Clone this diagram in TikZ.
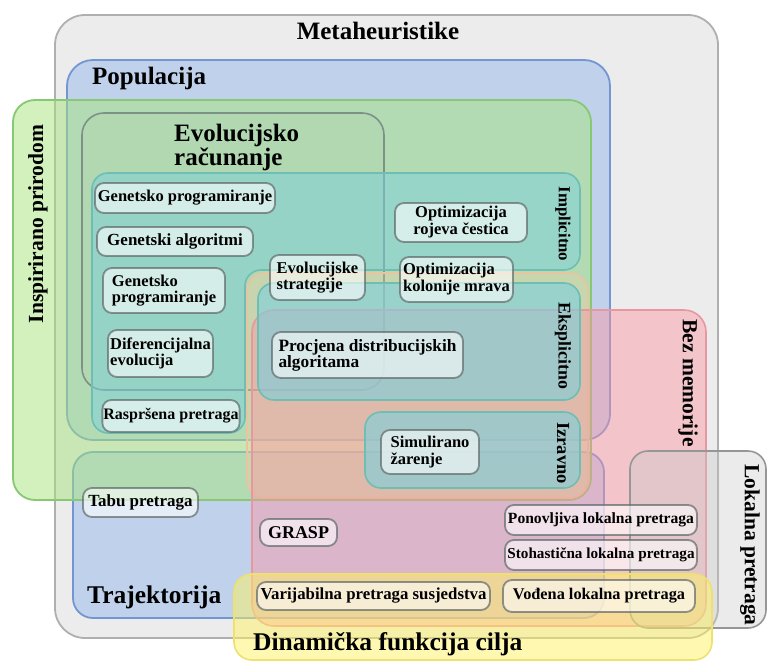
\documentclass[tikz,border=0pt]{standalone}
\usepackage{fontspec}
\setmainfont{Liberation Serif}
\definecolor{metaF}{RGB}{236,236,236}
\definecolor{metaD}{RGB}{175,175,175}
\definecolor{blueF}{RGB}{150,185,235}
\definecolor{blueD}{RGB}{115,150,210}
\definecolor{greenF}{RGB}{167,228,125}
\definecolor{greenD}{RGB}{135,200,115}
\definecolor{evoD}{RGB}{125,145,135}
\definecolor{tealF}{RGB}{125,208,222}
\definecolor{tealD}{RGB}{110,190,180}
\definecolor{orangeF}{RGB}{250,205,165}
\definecolor{orangeD}{RGB}{232,196,160}
\definecolor{redF}{RGB}{252,150,165}
\definecolor{redD}{RGB}{232,150,160}
\definecolor{locF}{RGB}{200,200,200}
\definecolor{locD}{RGB}{150,150,150}
\definecolor{yelF}{RGB}{255,242,100}
\definecolor{yelD}{RGB}{238,225,110}
\definecolor{itemD}{RGB}{95,105,105}
\begin{document}
\begin{tikzpicture}[x=1pt,y=-1pt,
  metabox/.style={fill=metaF, draw=metaD, line width=1.8pt, rounded corners=30pt},
  popbox/.style={fill=blueF, fill opacity=0.5, draw=blueD, line width=1.8pt, rounded corners=26pt},
  greenbox/.style={fill=greenF, fill opacity=0.5, draw=greenD, line width=1.8pt, rounded corners=22pt},
  evobox/.style={fill=gray, fill opacity=0.03, draw=evoD, line width=1.6pt, rounded corners=22pt},
  tealbox/.style={fill=tealF, fill opacity=0.5, draw=tealD, line width=1.6pt, rounded corners=16pt},
  orangebox/.style={fill=orangeF, fill opacity=0.3, draw=orangeD, line width=1.6pt, rounded corners=18pt},
  redbox/.style={fill=redF, fill opacity=0.45, draw=redD, line width=1.6pt, rounded corners=22pt},
  localbox/.style={fill=locF, fill opacity=0.35, draw=locD, line width=1.6pt, rounded corners=18pt},
  yellowbox/.style={fill=yelF, fill opacity=0.5, draw=yelD, line width=1.6pt, rounded corners=18pt},
  itembox/.style={draw=itemD, draw opacity=0.7, line width=1.8pt, fill=white, fill opacity=0.6,
    text opacity=1, rounded corners=9pt, inner sep=1pt, align=left,
    font=\bfseries\fontsize{16.5}{15}\selectfont},
  isize/.style 2 args={font=\bfseries\fontsize{#1}{#2}\selectfont},
  title/.style={font=\bfseries\fontsize{#1}{#1}\selectfont, inner sep=0pt}
]
\useasboundingbox (0,0) rectangle (768,664);
\fill[white] (0,0) rectangle (768,664);

% regions
\draw[metabox] (55,15) rectangle (718,638);
\draw[popbox] (67,60) rectangle (610,440);
\draw[popbox, rounded corners=20pt] (73,452) rectangle (604,618);
\draw[greenbox] (13,100) rectangle (591,500);
\draw[evobox] (82,113) rectangle (384,390);
\draw[orangebox] (247,273) rectangle (588,498);
\draw[redbox] (252,310) rectangle (706,626);
\draw[tealbox] (92,173) -- (580,173) -- (580,270) -- (245,270) -- (245,433) -- (92,433) -- cycle;
\draw[tealbox, fill opacity=0.62] (258,283) rectangle (580,400);
\draw[tealbox, fill opacity=0.62] (365,412) rectangle (580,488);
\draw[localbox] (630,451) rectangle (766,628);
\draw[yellowbox] (234,574) rectangle (712,660);

% items
\node[itembox, minimum width=180pt, minimum height=30pt] (gp1) at (185,198) {Genetsko programiranje};
\node[itembox, isize={17}{15}, minimum width=156pt, minimum height=29pt] (ga) at (175,241.5) {Genetski algoritmi};
\node[itembox, isize={16.5}{15.5}, minimum width=122pt, minimum height=45pt] (gp2) at (164,290.5) {Genetsko\\programiranje};
\node[itembox, isize={16.5}{15.5}, minimum width=105pt, minimum height=47pt] (de) at (160.5,353.5) {Diferencijalna\\evolucija};
\node[itembox, isize={16}{15}, minimum width=132pt, minimum height=32pt] (rp) at (171,416) {Raspršena pretraga};
\node[itembox, isize={16.5}{14}, minimum width=95pt, minimum height=45pt] (es) at (317.5,277.5) {Evolucijske\\strategije};
\node[itembox, isize={16.5}{17}, minimum width=132pt, minimum height=39pt, align=center] (pso) at (461,222.5) {Optimizacija\\rojeva čestica};
\node[itembox, isize={16.5}{17}, minimum width=113pt, minimum height=45pt] (aco) at (456.5,279.5) {Optimizacija\\kolonije mrava};
\node[itembox, isize={17.3}{16}, minimum width=191pt, minimum height=46pt] (eda) at (367.5,355) {Procjena distribucijskih\\algoritama};
\node[itembox, isize={16.5}{17}, minimum width=98pt, minimum height=44pt] (sa) at (430,452) {Simulirano\\žarenje};
\node[itembox, isize={17}{15}, minimum width=115pt, minimum height=29pt] (tabu) at (140.5,502.5) {Tabu pretraga};
\node[itembox, isize={18}{15}, minimum width=77pt, minimum height=27pt] (grasp) at (298.5,532.5) {GRASP};
\node[itembox, isize={15.6}{15}, minimum width=192pt, minimum height=30pt] (ils) at (601,520) {Ponovljiva lokalna pretraga};
\node[itembox, isize={15.2}{15}, minimum width=192pt, minimum height=30pt] (sls) at (601,555) {Stohastična lokalna pretraga};
\node[itembox, isize={16.8}{15}, minimum width=233pt, minimum height=28pt] (vns) at (373.5,596) {Varijabilna pretraga susjedstva};
\node[itembox, isize={16.3}{15}, minimum width=192pt, minimum height=32pt] (gls) at (599,596) {Vođena lokalna pretraga};

% labels
\node[title=25] (tMeta) at (378,31) {Metaheuristike};
\node[title=25, anchor=west] (tPop) at (92,78) {Populacija};
\node[title=25, anchor=north west, align=left, font=\bfseries\fontsize{25}{20}\selectfont] (tEvo) at (174,124) {Evolucijsko\\računanje};
\node[title=21.5, rotate=90] (tNat) at (38,224) {Inspirirano prirodom};
\node[title=16.8, rotate=-90] (tImp) at (563,224) {Implicitno};
\node[title=17.8, rotate=-90] (tExp) at (563,346) {Eksplicitno};
\node[title=18.5, rotate=-90] (tDir) at (563,453) {Izravno};
\node[title=21.5, rotate=-90] (tMem) at (688,383) {Bez memorije};
\node[title=21.5, rotate=-90] (tLoc) at (750,545) {Lokalna pretraga};
\node[title=25.5, anchor=west] (tTraj) at (87,597) {Trajektorija};
\node[title=25.5, anchor=west] (tDyn) at (253,644) {Dinamička funkcija cilja};
\end{tikzpicture}
\end{document}
